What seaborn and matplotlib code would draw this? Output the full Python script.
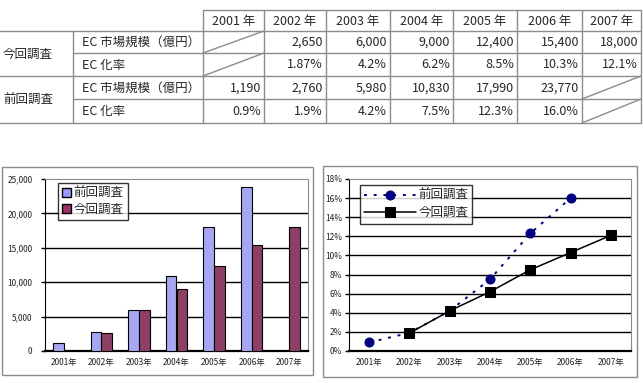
import numpy as np
import pandas as pd
import matplotlib
matplotlib.use("Agg")
import matplotlib.pyplot as plt
import seaborn as sns
from matplotlib.patches import Patch, Rectangle

# Data
years = [2001, 2002, 2003, 2004, 2005, 2006, 2007]
cur_label = "今回調査"
prev_label = "前回調査"
cur_market = [np.nan, 2650, 6000, 9000, 12400, 15400, 18000]
cur_rate = [np.nan, 1.87, 4.2, 6.2, 8.5, 10.3, 12.1]
prev_market = [1190, 2760, 5980, 10830, 17990, 23770, np.nan]
prev_rate = [0.9, 1.9, 4.2, 7.5, 12.3, 16.0, np.nan]
row_market = "EC 市場規模（億円）"
row_rate = "EC 化率"
market_ticks = [0, 5000, 10000, 15000, 20000, 25000]
rate_ticks = [0, 2, 4, 6, 8, 10, 12, 14, 16, 18]

BLUE = "#9999FF"
RED = "#993366"
NAVY = "#000080"
LINE_GRAY = "#8c8c8c"

sns.set_style("white")
plt.rcParams['font.family'] = ['Noto Sans CJK JP', 'DejaVu Sans']

W, H = 643, 383
fig = plt.figure(figsize=(W / 100, H / 100), dpi=100)

# overlay in pixel coords for the table and chart frames
ov = fig.add_axes([0, 0, 1, 1])
ov.set_xlim(0, W)
ov.set_ylim(H, 0)
ov.axis("off")

row_y = [10, 31, 53, 76, 99, 123]
col_x = [203, 264, 326, 390, 453, 517, 582, 641]
lkw = dict(color=LINE_GRAY, lw=1.0)

ov.plot([col_x[0], col_x[-1]], [row_y[0]] * 2, **lkw)
for y in (row_y[1], row_y[3], row_y[5]):
    ov.plot([0, col_x[-1]], [y, y], **lkw)
for y in (row_y[2], row_y[4]):
    ov.plot([73, col_x[-1]], [y, y], **lkw)
ov.plot([73, 73], [row_y[1], row_y[5]], **lkw)
for x in col_x:
    ov.plot([x, x], [row_y[0], row_y[5]], **lkw)

def fmt_rate(v):
    return f"{v:.2f}%" if round(v, 1) != v else f"{v:.1f}%"

rows = [
    (cur_market, lambda v: f"{int(v):,}"),
    (cur_rate, fmt_rate),
    (prev_market, lambda v: f"{int(v):,}"),
    (prev_rate, fmt_rate),
]
fs_tab = 9
for i, yr in enumerate(years):
    ov.text((col_x[i] + col_x[i + 1]) / 2, (row_y[0] + row_y[1]) / 2 + 0.5, f"{yr} 年",
            ha="center", va="center", fontsize=fs_tab)
for r, (vals, f) in enumerate(rows):
    yc = (row_y[r + 1] + row_y[r + 2]) / 2 + 0.5
    ov.text(82, yc, row_market if r % 2 == 0 else row_rate, ha="left", va="center", fontsize=fs_tab)
    for i, v in enumerate(vals):
        x0, x1 = col_x[i], col_x[i + 1]
        if np.isnan(v):
            ov.plot([x0, x1], [row_y[r + 2], row_y[r + 1]], **lkw)
        else:
            ov.text(x1 - 3, yc, f(v), ha="right", va="center", fontsize=fs_tab)
ov.text(3, (row_y[1] + row_y[3]) / 2 + 0.5, cur_label, ha="left", va="center", fontsize=fs_tab)
ov.text(3, (row_y[3] + row_y[5]) / 2 + 0.5, prev_label, ha="left", va="center", fontsize=fs_tab)

# chart frames
ov.add_patch(Rectangle((2, 167), 311, 208, fill=False, ec=LINE_GRAY, lw=1))
ov.add_patch(Rectangle((323, 166), 314, 211, fill=False, ec=LINE_GRAY, lw=1))

def px_axes(l, t, r, b):
    return fig.add_axes([l / W, 1 - b / H, (r - l) / W, (b - t) / H])

ax1 = px_axes(45, 179, 308, 351)
ax2 = px_axes(349, 179, 631, 351)

xlabels = [f"{y}年" for y in years]

# bar chart
df_bar = pd.DataFrame({
    "year": xlabels * 2,
    "survey": [prev_label] * len(years) + [cur_label] * len(years),
    "value": prev_market + cur_market,
})
sns.barplot(data=df_bar, x="year", y="value", hue="survey", hue_order=[prev_label, cur_label],
            palette=[BLUE, RED], width=0.57, edgecolor="black", linewidth=0.8,
            legend=False, ax=ax1, zorder=3)
ax1.set_ylim(0, 25000)
ax1.set_yticks(market_ticks)
ax1.set_yticklabels([f"{v:,}" for v in market_ticks])
ax1.legend(handles=[Patch(facecolor=BLUE, edgecolor="black", label=prev_label),
                    Patch(facecolor=RED, edgecolor="black", label=cur_label)],
           loc="upper left", bbox_to_anchor=(0.05, 0.975), borderaxespad=0, fontsize=9,
           frameon=True, fancybox=False, edgecolor="black", handlelength=0.7, handleheight=0.7,
           handletextpad=0.25, labelspacing=0.25, borderpad=0.3)

# line chart
xpos = np.arange(len(years))
sns.lineplot(x=xpos, y=prev_rate, ax=ax2, color=NAVY, marker="o", markersize=6.5,
             markeredgecolor=NAVY, linestyle=(0, (1.5, 3.5)), linewidth=1.4, label=prev_label, zorder=3)
sns.lineplot(x=xpos, y=cur_rate, ax=ax2, color="black", marker="s", markersize=6.5,
             markeredgecolor="black", linewidth=1.1, label=cur_label, zorder=3)
ax2.set_ylim(0, 18)
ax2.set_yticks(rate_ticks)
ax2.set_yticklabels([f"{v}%" for v in rate_ticks])
ax2.legend(loc="upper left", bbox_to_anchor=(0.039, 0.965), borderaxespad=0, fontsize=9,
           frameon=True, fancybox=False, edgecolor="black", handlelength=4.1,
           handletextpad=0.2, labelspacing=0.3, borderpad=0.35)

for ax in (ax1, ax2):
    ax.set_xlim(-0.5, len(years) - 0.5)
    ax.set_xticks(range(len(years)))
    ax.set_xticklabels(xlabels)
    ax.set_xticks(np.arange(len(years) + 1) - 0.5, minor=True)
    ax.tick_params(axis="x", which="major", length=0, pad=5, labelsize=6, labelcolor="#222222")
    ax.tick_params(axis="x", which="minor", length=3, direction="in", width=1, color="black")
    ax.tick_params(axis="y", length=3, direction="out", width=1, color="black", pad=2,
                   labelsize=6, labelcolor="#222222", left=True)
    ax.set_xlabel("")
    ax.set_ylabel("")
    ax.yaxis.grid(True, color="black", lw=1.0)
    ax.get_ygridlines()[-1].set_visible(False)
    ax.set_axisbelow(True)
    ax.set_facecolor("none")
    ax.spines["left"].set_color("black")
    ax.spines["bottom"].set_color("black")
    ax.spines["bottom"].set_linewidth(1.6)
    ax.spines["top"].set_color(LINE_GRAY)
    ax.spines["right"].set_color(LINE_GRAY)
    for s in ax.spines.values():
        s.set_visible(True)

ax1.tick_params(axis="y", pad=6)

fig.savefig("out.png", dpi=100)
